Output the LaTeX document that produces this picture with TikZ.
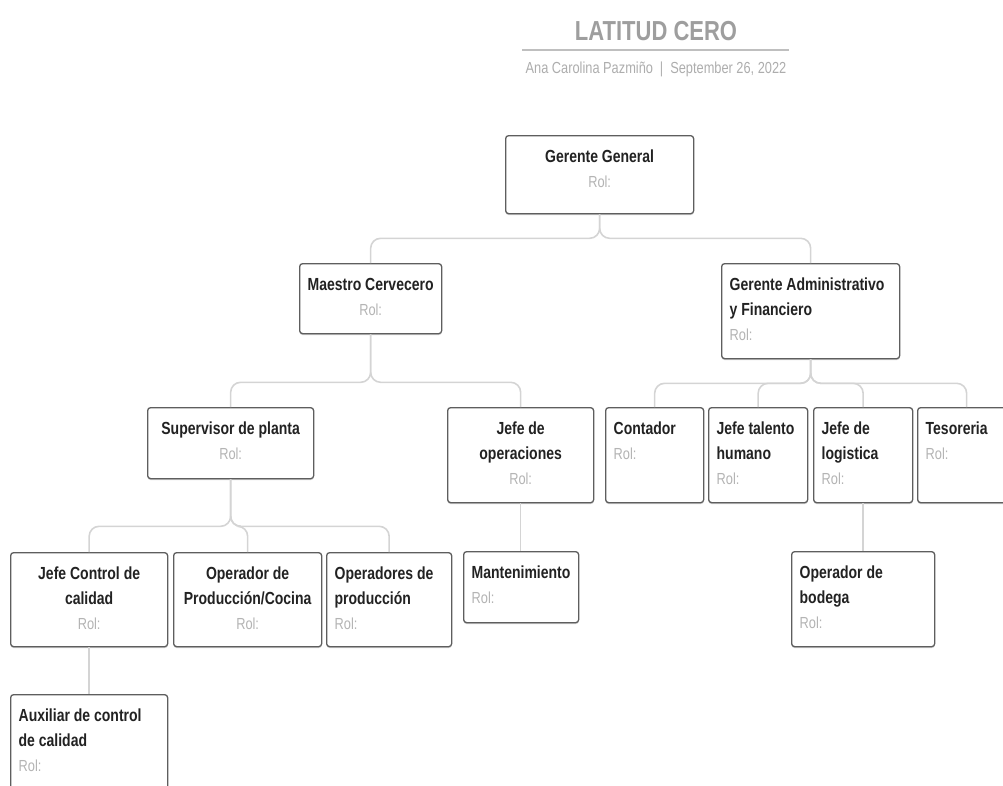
\documentclass[tikz,border=0pt]{standalone}
\usepackage{fontspec}
\usepackage{tikz}
\usetikzlibrary{shadows}
\setmainfont{Liberation Sans}[FakeStretch=0.8]

\definecolor{boxgray}{HTML}{5E5E5E}
\definecolor{linkgray}{HTML}{D4D4D4}
\definecolor{rolgray}{HTML}{B4B4B4}
\definecolor{headgray}{HTML}{9E9E9E}
\definecolor{namegray}{HTML}{222222}

% box content: inner width, inner height, alignment, title
\newcommand{\orgtext}[4]{\parbox[t][#2pt][t]{#1pt}{#3%
    \fontsize{17.5}{25}\selectfont\bfseries\color{namegray}\strut#4\par
    {\mdseries\fontsize{16}{25}\selectfont\color{rolgray}Rol:}}}

\begin{document}
\begin{tikzpicture}[x=1pt, y=-1pt,
            orgbox/.style = {draw=boxgray, line width=1.3pt, rounded corners=3pt,
                             fill=white, anchor=north west,
                             inner xsep=8pt, inner ysep=9pt,
                             drop shadow={shadow xshift=0pt, shadow yshift=-1.5pt,
                                          opacity=0.3, fill=black!60}},
            link/.style = {draw=linkgray, line width=1.6pt, rounded corners=10pt}]
    \useasboundingbox (0,0) rectangle (1003,785);
    \clip (0,0) rectangle (1003,785);

    % header
    \node[font=\fontsize{27.5}{30}\selectfont\bfseries, text=headgray] (title) at (656,31) {LATITUD CERO};
    \coordinate (ruleL) at (522,50);
    \coordinate (ruleR) at (789,50);
    \draw[draw=linkgray!90!black, line width=1.8pt] (ruleL) -- (ruleR);
    \node[font=\fontsize{16}{18}\selectfont, text=headgray!85!white] (author) at (656,69)
        {Ana Carolina Pazmiño\hspace{7pt}|\hspace{7pt}September 26, 2022};

    % level 1 and 2
    \node[orgbox] (gg) at (505,135) {\orgtext{172}{60}{\centering}{Gerente General}};
    \node[orgbox] (maestro) at (299,263) {\orgtext{126}{52}{\centering}{Maestro Cervecero}};
    \node[orgbox] (gadmin) at (721,263) {\orgtext{162}{77}{\raggedright}{Gerente Administrativo\\y Financiero}};

    % level 3
    \node[orgbox] (supervisor) at (147,407) {\orgtext{150}{53}{\centering}{Supervisor de planta}};
    \node[orgbox] (jefeop) at (447,407) {\orgtext{130}{77}{\centering}{Jefe de\\operaciones}};
    \node[orgbox] (contador) at (605,407) {\orgtext{82}{77}{\raggedright}{Contador}};
    \node[orgbox] (talento) at (708,407) {\orgtext{83}{77}{\raggedright}{Jefe talento\\humano}};
    \node[orgbox] (logistica) at (813,407) {\orgtext{83}{77}{\raggedright}{Jefe de\\logistica}};
    \node[orgbox] (tesoreria) at (917,407) {\orgtext{82}{77}{\raggedright}{Tesoreria}};

    % level 4
    \node[orgbox] (jcontrol) at (10,552) {\orgtext{141}{76}{\centering}{Jefe Control de\\calidad}};
    \node[orgbox] (opcocina) at (173,552) {\orgtext{132}{76}{\centering}{Operador de\\Producción/Cocina}};
    \node[orgbox] (opprod) at (326,552) {\orgtext{109}{76}{\raggedright}{Operadores de\\producción}};
    \node[orgbox] (mant) at (463,551) {\orgtext{99}{53}{\raggedright}{Mantenimiento}};
    \node[orgbox] (bodega) at (791,551) {\orgtext{127}{77}{\raggedright}{Operador de\\bodega}};

    % level 5
    \node[orgbox] (auxiliar) at (10,694) {\orgtext{141}{92}{\raggedright}{Auxiliar de control\\de calidad}};

    % connectors
    \foreach \child in {maestro, gadmin}
        \draw[link] (gg.south) -- ++(0,24) -| (\child.north);
    \foreach \child in {supervisor, jefeop}
        \draw[link] (maestro.south) -- ++(0,48) -| (\child.north);
    \foreach \child in {contador, talento, logistica, tesoreria}
        \draw[link] (gadmin.south) -- ++(0,24) -| (\child.north);
    \foreach \child in {jcontrol, opcocina, opprod}
        \draw[link] (supervisor.south) -- ++(0,47) -| (\child.north);
    \draw[link] (jefeop.south) -- (jefeop.south |- mant.north);
    \draw[link] (logistica.south) -- (bodega.north);
    \draw[link] (jcontrol.south) -- (auxiliar.north);
\end{tikzpicture}
\end{document}
